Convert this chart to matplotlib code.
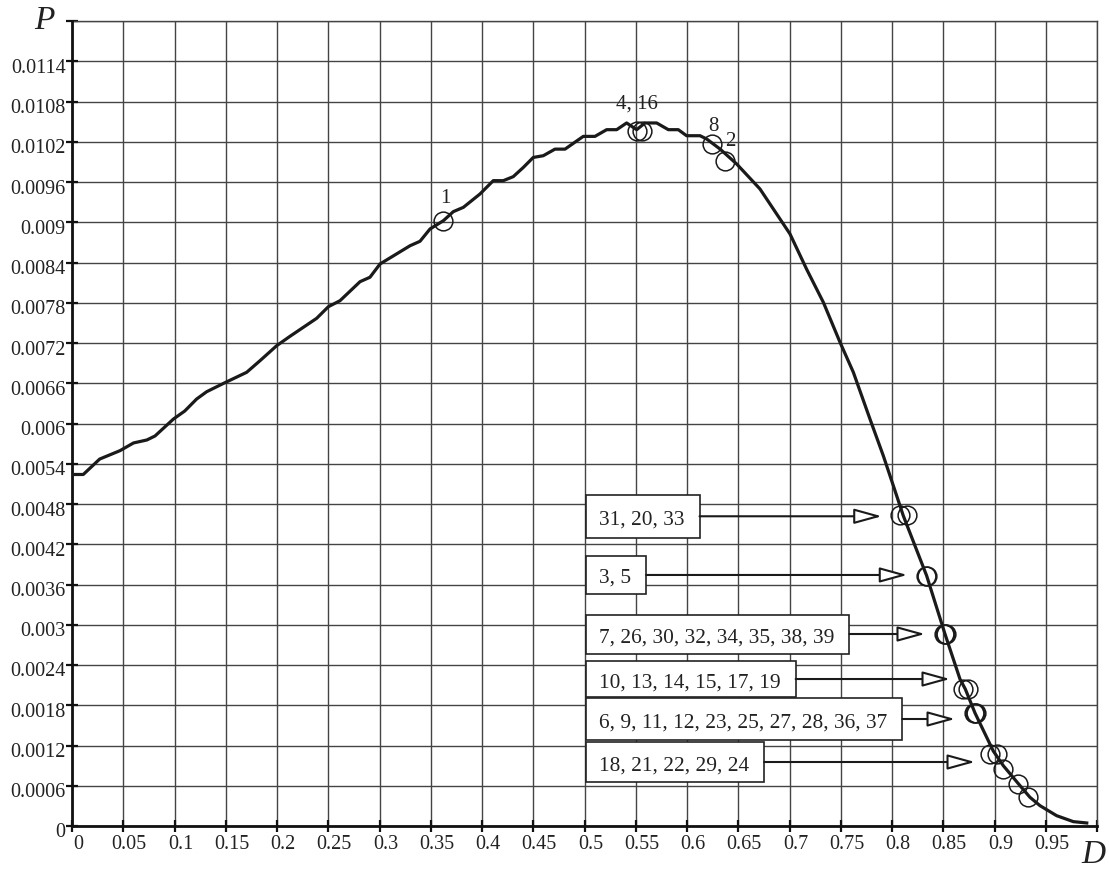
import matplotlib
matplotlib.use('Agg')
import matplotlib.pyplot as plt
from matplotlib.patches import Rectangle, FancyArrowPatch
import matplotlib.transforms as mtransforms

plt.rcParams['font.family'] = ['Liberation Serif', 'DejaVu Serif']

# ---------------- data ----------------
curve_D = [0.000, 0.011, 0.027, 0.0468, 0.060, 0.073, 0.081, 0.099, 0.110, 0.1216,
           0.1314, 0.1486, 0.1704, 0.1834, 0.1997, 0.2127, 0.2387, 0.2501, 0.2615, 0.2810,
           0.2907, 0.3005, 0.3298, 0.3395, 0.3493, 0.3623, 0.3720, 0.3818, 0.3980, 0.4110,
           0.4208, 0.4305, 0.4403, 0.4500, 0.4598, 0.4712, 0.4810, 0.4988, 0.5102, 0.5216,
           0.5314, 0.5411, 0.5509, 0.5590, 0.5704, 0.5818, 0.5915, 0.5996, 0.6127, 0.6192,
           0.6322, 0.6485, 0.6712, 0.7005, 0.7167, 0.7330, 0.7493, 0.7623, 0.7785, 0.7915,
           0.8013, 0.8110, 0.8338, 0.8517, 0.8663, 0.8715, 0.8810, 0.8988, 0.9086, 0.9249,
           0.9346, 0.9444, 0.9606, 0.9769, 0.9900]
curve_P = [0.00524, 0.00524, 0.00547, 0.005595, 0.00571, 0.005754, 0.005814, 0.006067, 0.006186, 0.006365,
           0.006474, 0.006604, 0.006763, 0.006936, 0.00716, 0.00730, 0.007568, 0.007741, 0.007831, 0.008114,
           0.008180, 0.008378, 0.008650, 0.008716, 0.008900, 0.009023, 0.009158, 0.009222, 0.009421, 0.009620,
           0.009620, 0.009680, 0.009817, 0.009966, 0.009992, 0.010090, 0.010090, 0.010280, 0.010280, 0.010380,
           0.010380, 0.010480, 0.010380, 0.010480, 0.010480, 0.010380, 0.010380, 0.010290, 0.010290, 0.010241,
           0.010092, 0.009868, 0.009496, 0.008825, 0.008300, 0.007807, 0.007210, 0.006763, 0.006067, 0.005520,
           0.005073, 0.004626, 0.003731, 0.002862, 0.002191, 0.002042, 0.001684, 0.001118, 0.000899, 0.000601,
           0.000428, 0.000303, 0.000154, 0.000065, 0.000045]

# labelled individual experiments
label_texts = ['1', '4, 16', '8', '2']
label_D = [[0.3623], [0.5514, 0.5558], [0.6241], [0.6371]]
label_P = [[0.009023], [0.010356, 0.010356], [0.010166], [0.009918]]

# grouped experiments (shown in boxes with arrows)
group_texts = ['31, 20, 33', '3, 5', '7, 26, 30, 32, 34, 35, 38, 39',
               '10, 13, 14, 15, 17, 19', '6, 9, 11, 12, 23, 25, 27, 28, 36, 37',
               '18, 21, 22, 29, 24']
group_D = [[0.8080, 0.8143],
           [0.8333, 0.8340],
           [0.8507, 0.8517, 0.8527],
           [0.8689, 0.8745],
           [0.8800, 0.8810, 0.8820],
           [0.8956, 0.9021, 0.9086, 0.9233, 0.9330]]
group_P = [[0.004636, 0.004636],
           [0.003731, 0.003731],
           [0.002862, 0.002862, 0.002862],
           [0.002042, 0.002042],
           [0.001684, 0.001684, 0.001684],
           [0.001073, 0.001073, 0.000850, 0.000626, 0.000428]]

x_tick_labels = ['0', '0.05', '0.1', '0.15', '0.2', '0.25', '0.3', '0.35', '0.4', '0.45', '0.5',
                 '0.55', '0.6', '0.65', '0.7', '0.75', '0.8', '0.85', '0.9', '0.95']
y_tick_labels = ['0', '0.0006', '0.0012', '0.0018', '0.0024', '0.003', '0.0036', '0.0042',
                 '0.0048', '0.0054', '0.006', '0.0066', '0.0072', '0.0078', '0.0084', '0.009',
                 '0.0096', '0.0102', '0.0108', '0.0114']

# ---------------- layout ----------------
W, H = 1109, 870
fig = plt.figure(figsize=(W / 100, H / 100), dpi=100)
ax = fig.add_axes([72 / W, 43 / H, 1025 / W, 805 / H])
XMAX, YMAX = 1.0, 0.012
ax.set_xlim(0, XMAX)
ax.set_ylim(0, YMAX)

xt = [float(s) for s in x_tick_labels] + [XMAX]
yt = [float(s) for s in y_tick_labels] + [YMAX]
ax.set_xticks(xt)
ax.set_xticklabels(x_tick_labels + [''])
ax.set_yticks(yt)
ax.set_yticklabels(y_tick_labels + [''])

grid_col = '#444444'
ax.grid(True, color=grid_col, lw=1.0)
ax.set_axisbelow(True)
ax.axhline(YMAX, color=grid_col, lw=1.0, clip_on=False, zorder=1)
ax.axvline(XMAX, color=grid_col, lw=1.0, clip_on=False, zorder=1)

for s in ['top', 'right']:
    ax.spines[s].set_visible(False)
for s in ['left', 'bottom']:
    ax.spines[s].set_linewidth(2.0)
    ax.spines[s].set_color('#111111')

ax.tick_params(axis='both', direction='inout', length=9, width=1.6, color='#111111',
               labelsize=14.5, labelcolor='#222222')
ax.tick_params(axis='x', pad=1)
ax.tick_params(axis='y', pad=0)

offs_x = mtransforms.ScaledTranslation(6 / 100, 0, fig.dpi_scale_trans)
for lab in ax.get_xticklabels():
    lab.set_transform(lab.get_transform() + offs_x)
offs_y = mtransforms.ScaledTranslation(0, -3.5 / 100, fig.dpi_scale_trans)
for lab in ax.get_yticklabels():
    lab.set_transform(lab.get_transform() + offs_y)

# curve
ax.plot(curve_D, curve_P, color='#1a1a1a', lw=2.3, zorder=4, solid_joinstyle='round')

circ_kw = dict(marker='o', ls='none', mfc='none', mec='#1a1a1a', ms=13.5, mew=1.1, zorder=5)
for ds, ps in zip(label_D, label_P):
    ax.plot(ds, ps, **circ_kw)
for ds, ps in zip(group_D, group_P):
    ax.plot(ds, ps, **circ_kw)

# labels above single points (offset in pixels)
label_offsets = [(2, 23), (-3, 28), (2, 19), (5, 20)]
for txt, ds, ps, (dx, dy) in zip(label_texts, label_D, label_P, label_offsets):
    xc = sum(ds) / len(ds)
    yc = sum(ps) / len(ps)
    ax.annotate(txt, (xc, yc), xytext=(dx, dy), textcoords='offset pixels',
                ha='center', va='center', fontsize=15, color='#222222', zorder=6)

# axis titles
fig.text(44 / W, 1 - 21 / H, 'P', fontsize=24, style='italic', ha='center', va='center',
         color='#222222')
fig.text(1093 / W, 1 - 855 / H, 'D', fontsize=24, style='italic', ha='center', va='center',
         color='#222222')

# boxes with arrows
box_left_D = 0.5015
box_center_P = [0.004617, 0.003742, 0.002862, 0.002191, 0.001595, 0.000954]
box_height_px = [42.7, 37.6, 39, 36, 42, 40]
arrow_tip_D = [0.790, 0.8149, 0.8322, 0.8566, 0.8615, 0.881]
box_fs = 15.4
cap_px = 0.66 * box_fs * 100 / 72

fig.canvas.draw()
renderer = fig.canvas.get_renderer()
inv = ax.transData.inverted()
texts = []
for txt, pc in zip(group_texts, box_center_P):
    xd, yd = ax.transData.transform((box_left_D, pc))
    t = fig.text(xd + 13, yd - cap_px / 2, txt, transform=None, fontsize=box_fs,
                 ha='left', va='baseline', color='#222222', zorder=7)
    texts.append(t)

fig.canvas.draw()
for t, pc, hpx, tip in zip(texts, box_center_P, box_height_px, arrow_tip_D):
    bb = t.get_window_extent(renderer)
    xl, yc = ax.transData.transform((box_left_D, pc))
    xr = bb.x1 + 15
    (d0, p0) = inv.transform((xl, yc - hpx / 2))
    (d1, p1) = inv.transform((xr, yc + hpx / 2))
    rect = Rectangle((d0, p0), d1 - d0, p1 - p0, facecolor='white', edgecolor='#222222',
                     lw=1.2, zorder=6)
    ax.add_patch(rect)
    arr = FancyArrowPatch((d1, pc), (tip, pc),
                          arrowstyle='-|>,head_length=1.7,head_width=0.47',
                          mutation_scale=10, shrinkA=0, shrinkB=0, lw=1.5,
                          ec='#1a1a1a', fc='white', zorder=6)
    ax.add_patch(arr)

fig.savefig('out.png', dpi=100)
